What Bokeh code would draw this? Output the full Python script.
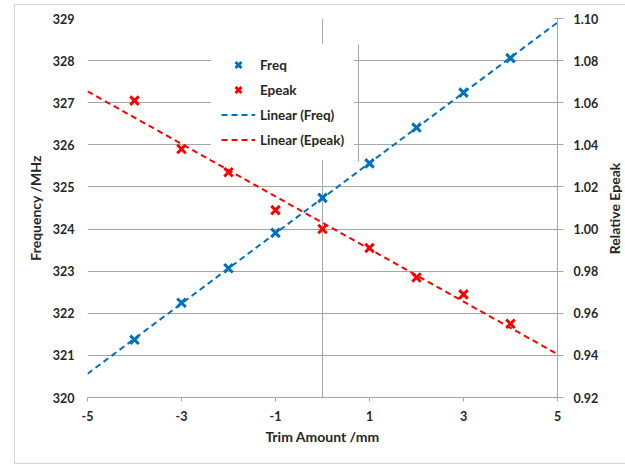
import math
import numpy as np
from bokeh.plotting import figure
from bokeh.models import (Range1d, LinearAxis, FixedTicker, Span, Legend, LegendItem,
                          BoxAnnotation, PrintfTickFormatter, Label)
from bokeh.embed import file_html
from bokeh.resources import INLINE

# ---- data ----
trim = [-4, -3, -2, -1, 0, 1, 2, 3, 4]
freq = [321.37, 322.25, 323.07, 323.91, 324.74, 325.56, 326.41, 327.24, 328.06]
epeak = [1.061, 1.038, 1.027, 1.009, 1.000, 0.991, 0.977, 0.969, 0.955]
x_ticks = [-5, -3, -1, 1, 3, 5]
freq_ticks = [320, 321, 322, 323, 324, 325, 326, 327, 328, 329]
epeak_ticks = [0.92, 0.94, 0.96, 0.98, 1.00, 1.02, 1.04, 1.06, 1.08, 1.10]
trend_x = [-5, 5]

# linear trend lines (least squares, like Excel's "Linear" trendline)
kf = np.polyfit(trim, freq, 1)
ke = np.polyfit(trim, epeak, 1)
trend_freq = list(np.polyval(kf, trend_x))
trend_epeak = list(np.polyval(ke, trend_x))

BLUE = "#0070C0"
RED = "#FF0000"
GRID = "#a6a6a6"
TXT = "#262626"
FONT = "Lato"
EDGE = "#d4d4d4"

p = figure(width=625, height=469, output_backend="svg", toolbar_location=None,
           x_range=Range1d(-5, 5), y_range=Range1d(320, 329),
           min_border_left=87, min_border_right=68, min_border_top=18, min_border_bottom=72,
           x_axis_location=None, y_axis_location=None)
p.extra_y_ranges = {"epeak": Range1d(0.92, 1.10)}
p.outline_line_color = None
p.background_fill_color = "white"
p.border_fill_alpha = 0
# light outer chart-area border (drawn by CSS behind the transparent canvas border)
g = f"linear-gradient({EDGE},{EDGE})"
p.styles = {
    "background": (f"{g} 14px 4px / 1px 460px no-repeat, "
                   f"{g} 14px 4px / 620px 1px no-repeat, "
                   f"{g} 14px 463px / 620px 1px no-repeat, white")
}

# grid
p.xgrid.visible = False
p.ygrid.ticker = FixedTicker(ticks=freq_ticks)
p.ygrid.grid_line_color = GRID
p.ygrid.grid_line_width = 1

# vertical axis line at x = 0
p.add_layout(Span(location=0, dimension="height", line_color=GRID, line_width=1, level="underlay"))

# axes
xa = LinearAxis(ticker=FixedTicker(ticks=x_ticks), formatter=PrintfTickFormatter(format="%d"),
                axis_label="Trim Amount /mm")
xa.axis_line_color = GRID
xa.major_tick_line_color = GRID
xa.major_tick_out = 4
xa.major_tick_in = 0
xa.minor_tick_line_color = None
xa.major_label_standoff = 9
xa.axis_label_standoff = 4
p.add_layout(xa, "below")

ya = LinearAxis(ticker=FixedTicker(ticks=freq_ticks), axis_label="Frequency /MHz")
ya.axis_line_color = None
ya.major_tick_line_color = None
ya.minor_tick_line_color = None
ya.major_tick_out = 0
ya.major_label_standoff = 13
ya.axis_label_standoff = 6
p.add_layout(ya, "left")

ra = LinearAxis(y_range_name="epeak", ticker=FixedTicker(ticks=epeak_ticks),
                formatter=PrintfTickFormatter(format="%.2f"))
ra.axis_line_color = GRID
ra.major_tick_line_color = GRID
ra.major_tick_out = 6
ra.major_tick_in = 3
ra.minor_tick_line_color = None
ra.major_label_standoff = 10
p.add_layout(ra, "right")

for ax in (xa, ya, ra):
    ax.major_label_text_font = FONT
    ax.major_label_text_font_style = "bold"
    ax.major_label_text_font_size = "12.5px"
    ax.major_label_text_color = TXT
    ax.axis_label_text_font = FONT
    ax.axis_label_text_font_style = "bold"
    ax.axis_label_text_font_size = "14px"
    ax.axis_label_text_color = TXT

# right axis title, reading bottom-to-top like the reference (in the right side panel)
p.add_layout(Label(text="Relative Epeak", x=13, y=189, x_units="screen", y_units="screen",
                   angle=math.pi / 2, text_align="center", text_baseline="middle",
                   text_font=FONT, text_font_style="bold", text_font_size="14px",
                   text_color=TXT), "right")

# trend lines
lf = p.line(trend_x, trend_freq, line_color=BLUE, line_width=2, line_dash="6 4")
le = p.line(trend_x, trend_epeak, line_color=RED, line_width=2, line_dash="6 4", y_range_name="epeak")

# points
sf = p.scatter(trim, freq, marker="x", size=12, line_width=3, line_color=BLUE)
se = p.scatter(trim, epeak, marker="x", size=12, line_width=3, line_color=RED, y_range_name="epeak")

legend = Legend(items=[LegendItem(label="Freq", renderers=[sf]),
                       LegendItem(label="Epeak", renderers=[se]),
                       LegendItem(label="Linear (Freq)", renderers=[lf]),
                       LegendItem(label="Linear (Epeak)", renderers=[le])],
                location=(124, 237))
legend.border_line_alpha = 0
legend.background_fill_color = "white"
legend.background_fill_alpha = 1
legend.padding = 10
legend.margin = 0
legend.spacing = 4
legend.glyph_width = 34
legend.glyph_height = 21
legend.label_height = 21
legend.label_standoff = 5
legend.label_text_font = FONT
legend.label_text_font_style = "bold"
legend.label_text_font_size = "13.5px"
legend.label_text_color = TXT
p.add_layout(legend, "center")

# legend right edge line (decoration)
p.add_layout(BoxAnnotation(left=357.5, right=358.5, top=44, bottom=161,
                           left_units="canvas", right_units="canvas",
                           top_units="canvas", bottom_units="canvas",
                           fill_color=GRID, fill_alpha=1, line_alpha=0))

open("out.html", "w").write(file_html(p, INLINE))
